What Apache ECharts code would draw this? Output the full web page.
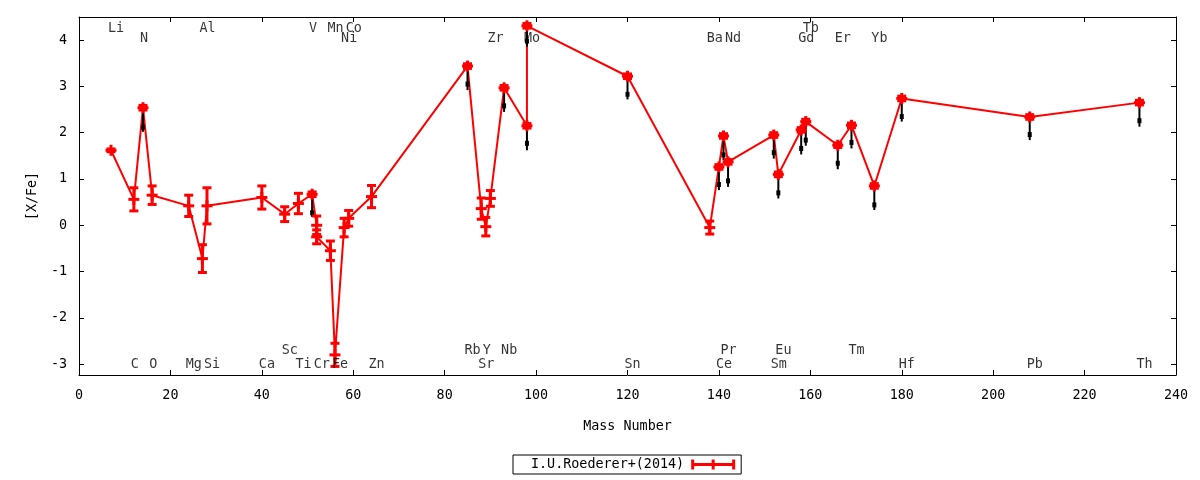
<!DOCTYPE html>
<html>
<head>
<meta charset="utf-8"/>
<title>[X/Fe] vs Mass Number</title>
<script src="https://cdn.jsdelivr.net/npm/echarts@6/dist/echarts.min.js"></script>
<style>
  html, body { margin: 0; padding: 0; background: #fff; }
  #main { width: 1200px; height: 480px; }
</style>
</head>
<body>
<div id="main"></div>
<script type="text/javascript">
// red data: I.U.Roederer+(2014)
var massNum = [7, 12, 14, 16, 24, 27, 28, 40, 45, 48, 51, 52, 52, 55, 56, 58, 59, 64,
               85, 88, 89, 90, 93, 98, 98, 120, 138, 140, 141, 142, 152, 153, 158, 159,
               166, 169, 174, 180, 208, 232];
var xfe = [1.62, 0.56, 2.54, 0.65, 0.42, -0.72, 0.42, 0.60, 0.24, 0.47, 0.67, 0.00, -0.25, -0.55, -2.80, -0.05, 0.15, 0.62,
           3.44, 0.36, -0.03, 0.58, 2.97, 2.15, 4.31, 3.22, -0.05, 1.26, 1.93, 1.37, 1.95, 1.10, 2.06, 2.24,
           1.73, 2.16, 0.85, 2.74, 2.34, 2.65];
var xfeErr = [0.03, 0.25, 0.05, 0.20, 0.23, 0.30, 0.39, 0.25, 0.16, 0.22, 0.05, 0.20, 0.15, 0.21, 0.25, 0.20, 0.17, 0.24,
              0.05, 0.23, 0.20, 0.17, 0.05, 0.05, 0.05, 0.05, 0.14, 0.05, 0.05, 0.05, 0.05, 0.05, 0.05, 0.05,
              0.05, 0.05, 0.05, 0.05, 0.05, 0.05];

// black bars
var blackMass = [14, 51, 85, 93, 98, 98, 120, 140, 141, 142, 152, 153, 158, 159, 166, 169, 174, 180, 208, 232];
var blackTop  = [2.54, 0.67, 3.44, 2.97, 2.15, 4.31, 3.22, 1.26, 1.93, 1.37, 1.95, 1.10, 2.06, 2.24, 1.73, 2.16, 0.85, 2.74, 2.34, 2.65];
var blackVal  = [2.12, 0.27, 3.05, 2.58, 1.77, 3.98, 2.83, 0.88, 1.52, 0.96, 1.57, 0.70, 1.66, 1.84, 1.34, 1.79, 0.44, 2.35, 1.96, 2.26];
var blackLow  = [2.02, 0.18, 2.92, 2.45, 1.62, 3.86, 2.72, 0.76, 1.41, 0.83, 1.44, 0.58, 1.53, 1.72, 1.21, 1.66, 0.33, 2.24, 1.84, 2.13];

// element labels
var elemNames = ['Li', 'Al', 'V', 'Mn', 'Co', 'Tb',
                 'N', 'Ni', 'Zr', 'Mo', 'Ba', 'Nd', 'Gd', 'Er', 'Yb',
                 'Sc', 'Rb', 'Y', 'Nb', 'Pr', 'Eu', 'Tm',
                 'C', 'O', 'Mg', 'Si', 'Ca', 'Ti', 'Cr', 'Fe', 'Zn', 'Sr', 'Sn', 'Ce', 'Sm', 'Hf', 'Pb', 'Th'];
var elemMass = [7, 27, 51, 55, 59, 159,
                14, 58, 90, 98, 138, 142, 158, 166, 174,
                45, 85, 89, 93, 141, 153, 169,
                12, 16, 24, 28, 40, 48, 52, 56, 64, 88, 120, 140, 152, 180, 208, 232];
var elemY = [4.25, 4.25, 4.25, 4.25, 4.25, 4.25,
             4.03, 4.03, 4.03, 4.03, 4.03, 4.03, 4.03, 4.03, 4.03,
             -2.7, -2.7, -2.7, -2.7, -2.7, -2.7, -2.7,
             -3, -3, -3, -3, -3, -3, -3, -3, -3, -3, -3, -3, -3, -3, -3, -3];

var yTicks = [-3, -2, -1, 0, 1, 2, 3, 4];

var FONT = 'DejaVu Sans Mono';
var legendName = 'I.U.Roederer+(2014)';

var lineData = [], errData = [], blackData = [], labelData = [];
for (var i = 0; i < massNum.length; i++) {
    lineData.push([massNum[i], xfe[i]]);
    errData.push([massNum[i], xfe[i], xfeErr[i]]);
}
for (var j = 0; j < blackMass.length; j++) {
    blackData.push([blackMass[j], blackTop[j], blackVal[j], blackLow[j]]);
}
for (var k = 0; k < elemNames.length; k++) {
    labelData.push([elemMass[k], elemY[k], elemNames[k]]);
}

var myChart = echarts.init(document.getElementById('main'));

function baseX(pos, showLabel) {
    return {
        type: 'value', position: pos, min: 0, max: 240, interval: 20,
        name: showLabel ? 'Mass Number' : '', nameLocation: 'middle', nameGap: 45,
        nameTextStyle: { fontFamily: FONT, fontSize: 13.4, color: '#000' },
        axisLine: { show: true, onZero: false, lineStyle: { color: '#000', width: 1 } },
        axisTick: { show: true, inside: true, length: 5, lineStyle: { color: '#000' } },
        axisLabel: { show: showLabel, margin: 14, fontFamily: FONT, fontSize: 13.4, color: '#000' },
        splitLine: { show: false }
    };
}
function baseY(pos, showLabel) {
    return {
        type: 'value', position: pos, min: -3.235, max: 4.5,
        name: showLabel ? '[X/Fe]' : '', nameLocation: 'middle', nameGap: 40,
        nameTextStyle: { fontFamily: FONT, fontSize: 13.4, color: '#000' },
        axisLine: { show: true, onZero: false, lineStyle: { color: '#000', width: 1 } },
        axisTick: { show: true, inside: true, length: 5, customValues: yTicks, lineStyle: { color: '#000' } },
        axisLabel: { show: showLabel, margin: 12, customValues: yTicks, fontFamily: FONT, fontSize: 13.4, color: '#000' },
        splitLine: { show: false }
    };
}

var option = {
    animation: false,
    backgroundColor: '#fff',
    grid: { left: 79, right: 24, top: 17, bottom: 105, containLabel: false },
    legend: {
        left: 513, top: 455,
        align: 'right',
        borderColor: '#000', borderWidth: 1, borderRadius: 0,
        padding: [3, 6, 3, 18],
        itemWidth: 44, itemHeight: 10,
        textStyle: { fontFamily: FONT, fontSize: 13.4, color: '#000', padding: [0, 2, 0, 0] },
        data: [{
            name: legendName,
            icon: 'path://M0,0h3v3.5h17.5v-3.5h3v3.5h17.5v-3.5h3v10h-3v-3.5h-17.5v3.5h-3v-3.5h-17.5v3.5h-3z',
            itemStyle: { color: '#ff0000' }
        }]
    },
    xAxis: [baseX('bottom', true), baseX('top', false)],
    yAxis: [baseY('left', true), baseY('right', false)],
    series: [
        {
            name: legendName,
            type: 'line',
            data: lineData,
            symbol: 'none',
            color: '#ff0000',
            lineStyle: { color: '#ff0000', width: 2 },
            z: 2,
            silent: true
        },
        {
            name: 'black',
            type: 'custom',
            data: blackData,
            z: 3,
            silent: true,
            renderItem: function (params, api) {
                var x = api.value(0);
                var top = api.coord([x, api.value(1)]);
                var mid = api.coord([x, api.value(2)]);
                var low = api.coord([x, api.value(3)]);
                var st = { fill: '#000' };
                return {
                    type: 'group',
                    children: [
                        { type: 'rect', shape: { x: top[0] - 1, y: top[1], width: 2, height: low[1] - top[1] }, style: st },
                        { type: 'rect', shape: { x: mid[0] - 2, y: mid[1] - 2.5, width: 4, height: 5 }, style: st }
                    ]
                };
            }
        },
        {
            name: 'err',
            type: 'custom',
            data: errData,
            z: 4,
            silent: true,
            renderItem: function (params, api) {
                var x = api.value(0), v = api.value(1), e = api.value(2);
                var c = api.coord([x, v]);
                var hi = api.coord([x, v + e]);
                var lo = api.coord([x, v - e]);
                var st = { fill: '#ff0000' };
                return {
                    type: 'group',
                    children: [
                        { type: 'rect', shape: { x: c[0] - 1.5, y: hi[1], width: 3, height: lo[1] - hi[1] }, style: st },
                        { type: 'rect', shape: { x: c[0] - 4.5, y: hi[1] - 1.5, width: 9, height: 3 }, style: st },
                        { type: 'rect', shape: { x: c[0] - 4.5, y: lo[1] - 1.5, width: 9, height: 3 }, style: st },
                        { type: 'rect', shape: { x: c[0] - 5.5, y: c[1] - 1.5, width: 11, height: 3 }, style: st },
                        { type: 'rect', shape: { x: c[0] - 1.5, y: c[1] - 5.5, width: 3, height: 11 }, style: st }
                    ]
                };
            }
        },
        {
            name: 'labels',
            type: 'scatter',
            data: labelData,
            symbolSize: 0,
            silent: true,
            z: 5,
            label: {
                show: true,
                position: 'right',
                distance: 0,
                offset: [-3, 0],
                fontFamily: FONT,
                fontSize: 13.4,
                color: '#000',
                formatter: function (p) { return p.value[2]; }
            }
        }
    ]
};

myChart.setOption(option);
</script>
</body>
</html>
